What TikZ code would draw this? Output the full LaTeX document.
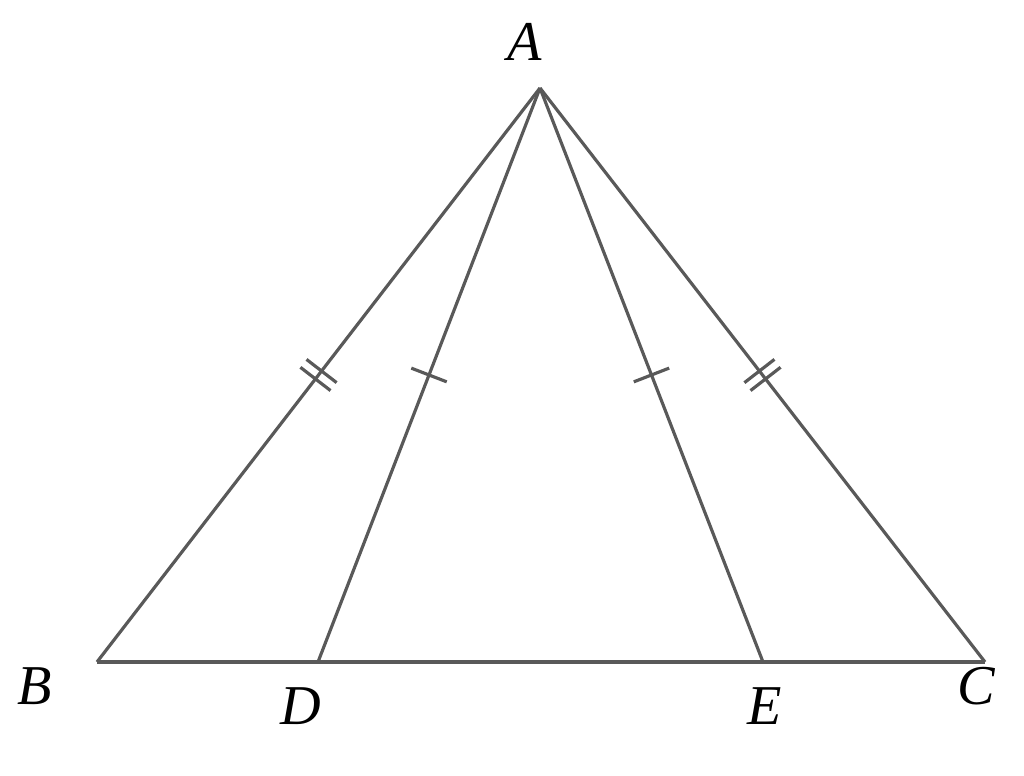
\documentclass[tikz,border=0pt]{standalone}
\usepackage{fontspec}
\setmainfont{Liberation Serif}
\usetikzlibrary{decorations.markings}
\tikzset{
  seg/.style={line width=0.9pt, draw=black!65},
  lbl/.style={font=\fontsize{16}{18}\selectfont\itshape, inner sep=0pt},
  onetick/.style={postaction={decorate}, decoration={markings,
      mark=at position 0.5 with {\draw[seg] (0,-0.19) -- (0,0.19);}}},
  twotick/.style={postaction={decorate}, decoration={markings,
      mark=at position 0.5 with {\draw[seg] (-0.05,-0.19) -- (-0.05,0.19);
                                 \draw[seg] (0.05,-0.19) -- (0.05,0.19);}}}
}
\begin{document}
\begin{tikzpicture}
      \useasboundingbox (0,0) rectangle (10.24,7.76);
      \draw
        (5.40,6.88) coordinate (A)
        (0.97,1.14) coordinate (B)
        (9.85,1.14) coordinate (C)
        (3.18,1.14) coordinate (D)
        (7.63,1.14) coordinate (E);
      \node[lbl] (a) at (5.25,7.34) {A};
      \node[lbl] (b) at (0.35,0.90) {B};
      \node[lbl] (d) at (3.01,0.70) {D};
      \node[lbl] (e) at (7.65,0.70) {E};
      \node[lbl] (c) at (9.76,0.90) {C};
      \begin{scope}[seg]
        \draw[twotick] (A) to (B);
        \draw[onetick] (A) to (D);
        \draw[onetick] (A) to (E);
        \draw[twotick] (A) to (C);
        \draw (B) to (C);
      \end{scope}
    \end{tikzpicture}
\end{document}
